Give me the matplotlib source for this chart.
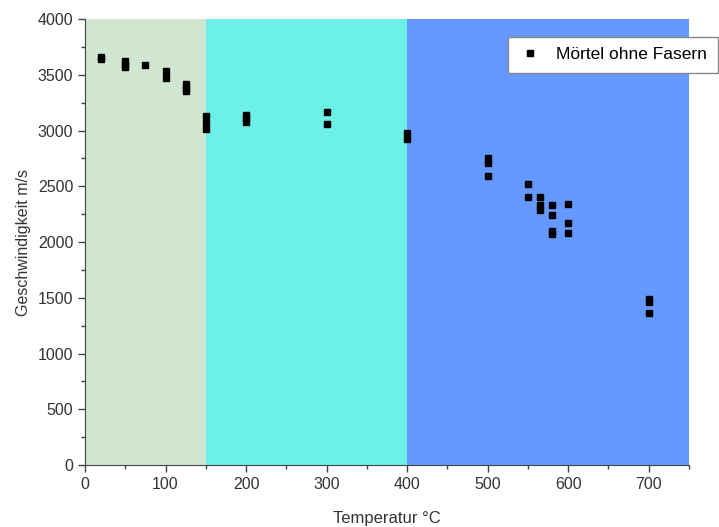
import matplotlib.pyplot as plt
from matplotlib.ticker import MultipleLocator

plt.rcParams['font.family'] = ['Liberation Sans', 'DejaVu Sans']

# temperature zones (degC) and their colours
zone_edges = [0, 150, 400, 750]
zone_colors = ['#d0e6d1', '#6cf0e8', '#6699ff']

# measured velocities, Mörtel ohne Fasern
temp = [20, 20, 50, 50, 50, 75, 100, 100, 125, 125, 125,
        150, 150, 150, 200, 200, 200, 300, 300, 400, 400,
        500, 500, 500, 550, 550, 565, 565, 565,
        580, 580, 580, 580, 600, 600, 600, 700, 700, 700]
speed = [3640, 3660, 3620, 3590, 3570, 3590, 3530, 3470, 3420, 3380, 3350,
         3130, 3070, 3010, 3140, 3110, 3080, 3170, 3060, 2980, 2920,
         2750, 2710, 2590, 2520, 2400, 2400, 2330, 2290,
         2330, 2240, 2100, 2070, 2340, 2170, 2080, 1490, 1460, 1360]

fig = plt.figure(figsize=(7.19, 5.27), dpi=100)
ax = fig.add_axes([0.1182, 0.1176, 0.8401, 0.8463])

for i in range(len(zone_colors)):
    ax.axvspan(zone_edges[i], zone_edges[i + 1], color=zone_colors[i], lw=0, zorder=0)

ax.plot(temp, speed, 's', color='black', markersize=4.5, ls='none',
        label='Mörtel ohne Fasern', zorder=3)

ax.set_xlim(0, 750)
ax.set_ylim(0, 4000)
ax.xaxis.set_major_locator(MultipleLocator(100))
ax.xaxis.set_minor_locator(MultipleLocator(50))
ax.yaxis.set_major_locator(MultipleLocator(500))
ax.yaxis.set_minor_locator(MultipleLocator(250))
ax.tick_params(which='major', length=5, width=1, color='#444444', labelsize=11.5,
               labelcolor='#333333', direction='out')
ax.tick_params(which='minor', length=3, width=1, color='#444444', direction='out')

for s in ['top', 'right']:
    ax.spines[s].set_visible(False)
for s in ['left', 'bottom']:
    ax.spines[s].set_color('#444444')

ax.set_xlabel('Temperatur °C', fontsize=12, color='#333333', labelpad=14)
ax.set_ylabel('Geschwindigkeit m/s', fontsize=11.5, color='#333333', labelpad=5)

leg = ax.legend(loc='upper left', bbox_to_anchor=(0.70, 0.96), fontsize=12.5,
                frameon=True, fancybox=False, handlelength=1.4, borderpad=0.6,
                borderaxespad=0)
leg.get_frame().set_edgecolor('#888888')
leg.get_frame().set_alpha(1)

fig.savefig('out.png', dpi=100)
